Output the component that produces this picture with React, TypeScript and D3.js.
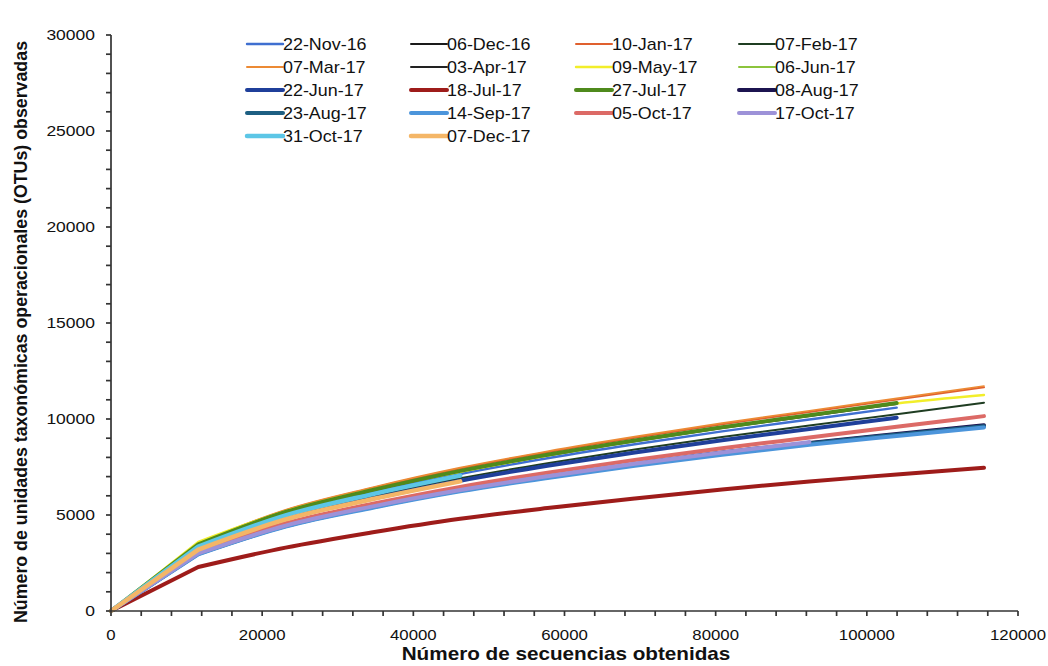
import React from "react";
import * as d3 from "d3";

const xSteps = [0, 11550, 23100, 34650, 46200, 57750, 69300, 80850, 92400, 103950, 115500];

const seriesNames = [
  "22-Nov-16", "06-Dec-16", "10-Jan-17", "07-Feb-17",
  "07-Mar-17", "03-Apr-17", "09-May-17", "06-Jun-17",
  "22-Jun-17", "18-Jul-17", "27-Jul-17", "08-Aug-17",
  "23-Aug-17", "14-Sep-17", "05-Oct-17", "17-Oct-17",
  "31-Oct-17", "07-Dec-17",
];

const seriesColors = [
  "#3f6fd0", "#1a1a1a", "#e0602e", "#1f3d22",
  "#ec8a34", "#222222", "#f2ee2a", "#8cc43c",
  "#1f3f9a", "#9e1c1a", "#4f8a1c", "#1c1450",
  "#1d5f82", "#4c95db", "#dc6a66", "#9d92d8",
  "#5cc6e6", "#f4b667",
];

const seriesWidths = [
  2.4, 2, 2, 2,
  1.6, 1.2, 2.4, 1.2,
  4, 4, 4, 4,
  4, 4, 4, 4,
  4.5, 4.5,
];

const v22Nov16 = [0, 3395, 5043, 6163, 7138, 7956, 8685, 9357, 9973, 10590];
const v06Dec16 = [0, 3456, 5133, 6274, 7266, 8099, 8840, 9525, 10152, 10780];
const v10Jan17 = [0, 3530, 5243, 6408, 7421, 8272, 9029, 9728, 10369, 11009, 11650];
const v07Feb17 = [0, 3390, 4900, 5970, 6910, 7700, 8410, 9060, 9660, 10250, 10850];
const v07Mar17 = [0, 3551, 5274, 6446, 7466, 8321, 9083, 9786, 10431, 11075, 11720];
const v03Apr17 = [0, 3463, 5143, 6286, 7280, 8115, 8857, 9543, 10172, 10800];
const v09May17 = [0, 3600, 5200, 6330, 7250, 8100, 8860, 9560, 10200, 10810, 11250];
const v06Jun17 = [0, 3476, 5162, 6309, 7307, 8144, 8890, 9578, 10209, 10840];
const v22Jun17 = [0, 3229, 4795, 5861, 6788, 7566, 8258, 8898, 9484, 10070];
const v18Jul17 = [0, 2290, 3300, 4100, 4800, 5360, 5860, 6330, 6750, 7110, 7460];
const v27Jul17 = [0, 3472, 5157, 6303, 7300, 8137, 8882, 9569, 10199, 10830];
const v08Aug17 = [0, 3000, 4450, 5450, 6300, 7000, 7650, 8250, 8750, 9220, 9680];
const v23Aug17 = [0, 2980, 4420, 5420, 6270, 6970, 7610, 8200, 8720, 9180, 9620];
const v14Sep17 = [0, 2950, 4400, 5380, 6230, 6930, 7560, 8140, 8660, 9120, 9560];
const v05Oct17 = [0, 3075, 4568, 5583, 6466, 7207, 7866, 8475, 9034, 9593, 10150];
const v17Oct17 = [0, 3000, 4450, 5450, 6300, 7020, 7670, 8260, 8800];
const v31Oct17 = [0, 3350, 4980, 6090, 7050];
const v07Dec17 = [0, 3200, 4770, 5830, 6750];

const seriesValues = [
  v22Nov16, v06Dec16, v10Jan17, v07Feb17,
  v07Mar17, v03Apr17, v09May17, v06Jun17,
  v22Jun17, v18Jul17, v27Jul17, v08Aug17,
  v23Aug17, v14Sep17, v05Oct17, v17Oct17,
  v31Oct17, v07Dec17,
];

const xTicks = [0, 20000, 40000, 60000, 80000, 100000, 120000];
const yTicks = [0, 5000, 10000, 15000, 20000, 25000, 30000];

const xTitle = "Número de secuencias obtenidas";
const yTitle = "Número de unidades taxonómicas operacionales (OTUs) observadas";

export default function App() {
  const x = d3.scaleLinear().domain([0, 120000]).range([111, 1018]);
  const y = d3.scaleLinear().domain([0, 30000]).range([611, 35]);
  const curve = d3
    .line<[number, number]>()
    .x((d) => x(d[0]))
    .y((d) => y(d[1]))
    .curve(d3.curveMonotoneX);

  const makePath = (pts: [number, number][]) => {
    const rest = curve(pts.slice(1)) || "";
    return `M${x(pts[0][0])},${y(pts[0][1])}L` + rest.slice(1);
  };

  const xMinor = d3.range(0, 120001, 4000);
  const yMinor = d3.range(0, 30001, 1000);
  const font = "'Liberation Sans', Arial, sans-serif";
  const axisColor = "#333";

  return (
    <svg
      width={1048}
      height={666}
      style={{ position: "absolute", left: 0, top: 0, background: "#fff" }}
      fontFamily={font}
    >
      <rect width={1048} height={666} fill="#fff" />
      {seriesValues.map((vals, i) => {
        const pts: [number, number][] = vals.map((v, j) => [xSteps[j], v]);
        return (
          <path
            key={seriesNames[i]}
            d={makePath(pts)}
            fill="none"
            stroke={seriesColors[i]}
            strokeWidth={seriesWidths[i]}
            strokeLinejoin="round"
            strokeLinecap="round"
          />
        );
      })}
      <line x1={x(0)} x2={x(120000)} y1={y(0)} y2={y(0)} stroke={axisColor} strokeWidth={1.7} />
      <line x1={x(0)} x2={x(0)} y1={y(0)} y2={y(30000)} stroke={axisColor} strokeWidth={1.7} />
      {xMinor.map((t) => (
        <line key={"xm" + t} x1={x(t)} x2={x(t)} y1={y(0)} y2={y(0) + 5} stroke={axisColor} strokeWidth={1.7} />
      ))}
      {yMinor.map((t) => (
        <line key={"ym" + t} x1={x(0) - 5} x2={x(0)} y1={y(t)} y2={y(t)} stroke={axisColor} strokeWidth={1.7} />
      ))}
      {xTicks.map((t) => (
        <text
          key={"xt" + t}
          transform={`translate(${x(t)},${y(0) + 29}) scale(1.12,1)`}
          textAnchor="middle"
          fontSize={15}
          fill="#111"
        >
          {t}
        </text>
      ))}
      {yTicks.map((t) => (
        <text
          key={"yt" + t}
          transform={`translate(${x(0) - 16},${y(t) + 5}) scale(1.25,1)`}
          textAnchor="end"
          fontSize={14}
          fill="#111"
        >
          {t}
        </text>
      ))}
      <text
        transform="translate(566,660) scale(1.15,1)"
        textAnchor="middle"
        fontSize={18}
        fontWeight="bold"
        fill="#111"
      >
        {xTitle}
      </text>
      <text
        transform="translate(27,332) rotate(-90)"
        textAnchor="middle"
        fontSize={17.8}
        fontWeight="bold"
        fill="#111"
      >
        {yTitle}
      </text>
      {seriesNames.map((name, i) => {
        const col = i % 4;
        const row = Math.floor(i / 4);
        const lx = [247, 411, 576, 739][col];
        const ly = 44 + row * 23;
        return (
          <g key={"lg" + name}>
            <line
              x1={lx}
              x2={lx + 36}
              y1={ly}
              y2={ly}
              stroke={seriesColors[i]}
              strokeWidth={Math.max(seriesWidths[i], 2)}
              strokeLinecap="round"
            />
            <text
              transform={`translate(${lx + 36},${ly + 6}) scale(1.12,1)`}
              fontSize={16}
              fill="#111"
            >
              {name}
            </text>
          </g>
        );
      })}
    </svg>
  );
}
